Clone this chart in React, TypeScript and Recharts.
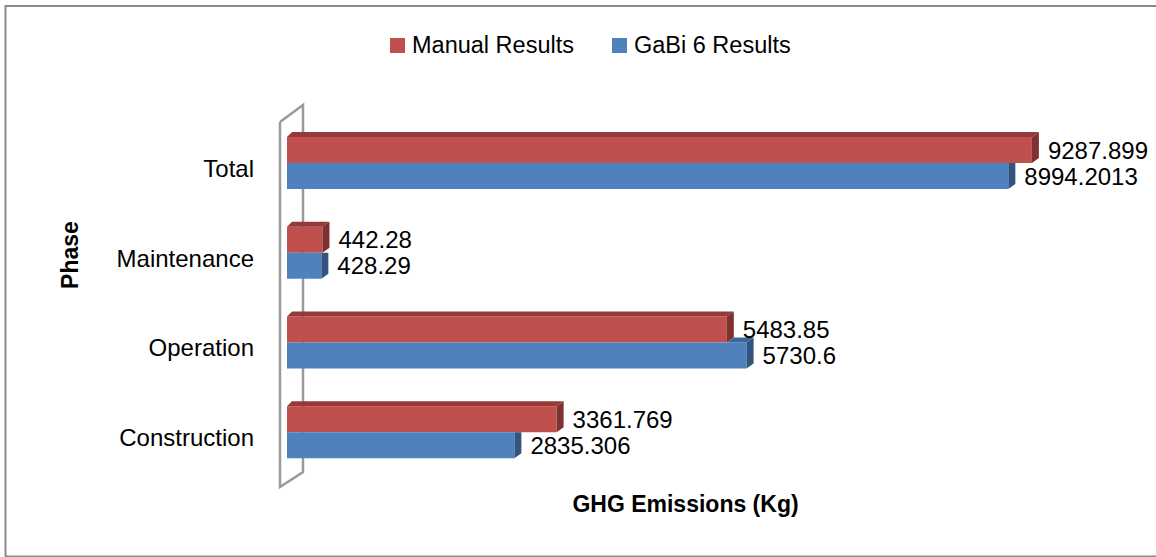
import React from 'react';
import { BarChart, Bar, XAxis, YAxis, Legend, LabelList } from 'recharts';

const phases = ['Construction', 'Operation', 'Maintenance', 'Total'];
const manualResults = [3361.769, 5483.85, 442.28, 9287.899];
const gabiResults = [2835.306, 5730.6, 428.29, 8994.2013];
const manualLabels = ['3361.769', '5483.85', '442.28', '9287.899'];
const gabiLabels = ['2835.306', '5730.6', '428.29', '8994.2013'];
const seriesNames = ['Manual Results', 'GaBi 6 Results'];

const data = phases.map((p, i) => ({
  phase: p,
  manual: manualResults[i],
  gabi: gabiResults[i],
  manualLabel: manualLabels[i],
  gabiLabel: gabiLabels[i],
}));

const FONT = '"Liberation Sans", Arial, sans-serif';
const W = 1156;
const H = 557;
const MARGIN = { top: 118, right: 67, bottom: 80, left: 0 };
const YAXIS_W = 287;
const PLOT_LEFT = MARGIN.left + YAXIS_W;
const PLOT_TOP = MARGIN.top;
const PLOT_BOTTOM = H - MARGIN.bottom;

const RED = '#C0504D';
const RED_TOP = '#953A38';
const RED_SIDE = '#7F312F';
const BLUE = '#4F81BD';
const BLUE_TOP = '#3B6596';
const BLUE_SIDE = '#31557F';

const DXL = 5;
const DXR = 7;
const DY = 5;

const RedShape = (props: any) => {
  const { x, y, width: w, height: h } = props;
  if (w == null || w <= 0) return null;
  return (
    <g>
      <rect x={x} y={y} width={w} height={h} fill={RED} />
      <polygon points={`${x},${y} ${x + DXL},${y - DY} ${x + w + DXR},${y - DY} ${x + w},${y}`} fill={RED_TOP} />
      <polygon points={`${x + w},${y} ${x + w + DXR},${y - DY} ${x + w + DXR},${y + h - DY} ${x + w},${y + h}`} fill={RED_SIDE} />
    </g>
  );
};

const BlueShape = (props: any) => {
  const { x, y, width: w, height: h, payload } = props;
  if (w == null || w <= 0) return null;
  const redW = payload && payload.gabi ? (w * payload.manual) / payload.gabi : 0;
  const parts: any[] = [<rect key="f" x={x} y={y} width={w} height={h} fill={BLUE} />];
  if (redW < w) {
    const rx = x + redW;
    parts.push(
      <polygon key="t" points={`${rx},${y} ${rx + DXR},${y - DY} ${x + w + DXR},${y - DY} ${x + w},${y}`} fill={BLUE_TOP} />
    );
    parts.push(
      <polygon key="s" points={`${x + w},${y} ${x + w + DXR},${y - DY} ${x + w + DXR},${y + h - DY} ${x + w},${y + h}`} fill={BLUE_SIDE} />
    );
  } else {
    parts.push(
      <polygon key="s" points={`${x + w},${y} ${x + w + DXR},${y} ${x + w + DXR},${y + h - DY} ${x + w},${y + h}`} fill={BLUE_SIDE} />
    );
  }
  return <g>{parts}</g>;
};

const ValueLabel = (props: any) => {
  const { x, y, width, height, value } = props;
  return (
    <text x={x + width + 16} y={y + height / 2 + 8.5} fontFamily={FONT} fontSize={24} fill="#000">
      {value}
    </text>
  );
};

const CategoryTick = (props: any) => {
  const { x, y, payload } = props;
  return (
    <text x={x} y={y + 14} textAnchor="end" fontFamily={FONT} fontSize={24} fill="#000">
      {payload.value}
    </text>
  );
};

const LegendContent = () => (
  <div style={{ display: 'flex', alignItems: 'center', paddingLeft: 390, fontFamily: FONT, fontSize: 23.5, color: '#000', lineHeight: '28px' }}>
    <span style={{ width: 15, height: 15, background: RED, display: 'inline-block', marginRight: 7 }} />
    <span style={{ marginRight: 38 }}>{seriesNames[0]}</span>
    <span style={{ width: 15, height: 15, background: BLUE, display: 'inline-block', marginRight: 7 }} />
    <span>{seriesNames[1]}</span>
  </div>
);

export default function App() {
  return (
    <div style={{ position: 'absolute', left: 0, top: 0, width: W, height: H, background: '#fff', overflow: 'hidden' }}>
      <svg width={W} height={H} style={{ position: 'absolute', left: 0, top: 0 }}>
        <rect x={5.5} y={6} width={W + 10} height={550.5} fill="none" stroke="#8A8A8A" strokeWidth={2} />
        <g stroke="#9A9A9A" strokeWidth={2.5} fill="none">
          <polyline points={`${PLOT_LEFT - 7},${PLOT_TOP + 4} ${PLOT_LEFT - 7},${PLOT_BOTTOM + 10} ${PLOT_LEFT + 16},${PLOT_BOTTOM - 5} ${PLOT_LEFT + 16},${PLOT_TOP - 13} ${PLOT_LEFT - 7},${PLOT_TOP + 4}`} />
        </g>
        <text x={78} y={255} transform="rotate(-90 78 255)" textAnchor="middle" fontFamily={FONT} fontWeight="bold" fontSize={23} fill="#000">
          Phase
        </text>
        <text x={685.5} y={512} textAnchor="middle" fontFamily={FONT} fontWeight="bold" fontSize={23} fill="#000">
          GHG Emissions (Kg)
        </text>
      </svg>
      <div style={{ position: 'absolute', left: 0, top: 0 }}>
        <BarChart width={W} height={H} data={data} layout="vertical" margin={MARGIN} barGap={0} barSize={26}>
          <XAxis type="number" domain={[0, 10000]} hide />
          <YAxis
            type="category"
            dataKey="phase"
            reversed
            width={YAXIS_W}
            axisLine={false}
            tickLine={false}
            tickSize={0}
            tickMargin={33}
            tick={<CategoryTick />}
            interval={0}
          />
          <Legend
            verticalAlign="middle"
            align="center"
            wrapperStyle={{ top: 31, left: 0, width: W }}
            content={<LegendContent />}
          />
          <Bar dataKey="manual" name={seriesNames[0]} fill={RED} shape={<RedShape />} isAnimationActive={false}>
            <LabelList dataKey="manualLabel" content={<ValueLabel />} />
          </Bar>
          <Bar dataKey="gabi" name={seriesNames[1]} fill={BLUE} shape={<BlueShape />} isAnimationActive={false}>
            <LabelList dataKey="gabiLabel" content={<ValueLabel />} />
          </Bar>
        </BarChart>
      </div>
    </div>
  );
}
